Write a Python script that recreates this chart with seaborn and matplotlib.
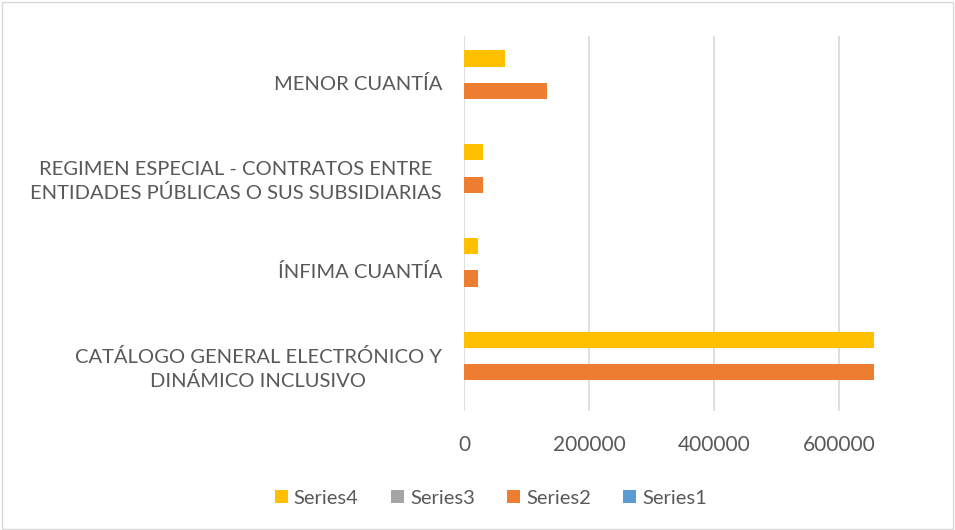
import matplotlib.pyplot as plt
import pandas as pd
import seaborn as sns

# categories top -> bottom (seaborn puts the first one at the top)
categories = [
    'MENOR CUANTÍA',
    'REGIMEN ESPECIAL - CONTRATOS ENTRE\nENTIDADES PÚBLICAS O SUS SUBSIDIARIAS',
    'ÍNFIMA CUANTÍA',
    'CATÁLOGO GENERAL ELECTRÓNICO Y\nDINÁMICO INCLUSIVO',
]
series_names = ['Series4', 'Series3', 'Series2', 'Series1']
series4 = [66000, 31000, 23000, 657000]
series3 = [0, 0, 0, 0]
series2 = [133000, 31000, 23000, 657000]
series1 = [0, 0, 0, 0]
colors = ['#ffc000', '#a5a5a5', '#ed7d31', '#5b9bd5']

# long-form table for seaborn
rows = []
for name, vals in zip(series_names, [series4, series3, series2, series1]):
    for cat, v in zip(categories, vals):
        rows.append({'cat': cat, 'series': name, 'value': v})
df = pd.DataFrame(rows)

sns.set_style('white')
plt.rcParams['font.family'] = ['Lato', 'DejaVu Sans']

fig = plt.figure(figsize=(9.55, 5.30), dpi=100)
ax = fig.add_axes([0.486, 0.2245, 0.430, 0.7075])

sns.barplot(data=df, y='cat', x='value', hue='series', order=categories,
            hue_order=series_names, palette=colors, orient='y',
            width=0.695, linewidth=0, saturation=1, ax=ax, zorder=3)

ax.set_xlim(0, 657600)
ax.set_xticks([0, 200000, 400000, 600000])
ax.set_xticklabels(['0', '200000', '400000', '600000'])
ax.grid(axis='x', color='#d9d9d9', linewidth=1.2, zorder=0)
ax.grid(axis='y', visible=False)
for s in ax.spines.values():
    s.set_visible(False)
ax.tick_params(axis='y', length=0, labelsize=14.5, colors='#595959', pad=16)
ax.tick_params(axis='x', length=0, labelsize=15, colors='#595959', pad=17)
for lbl in ax.get_yticklabels():
    lbl.set_multialignment('center')
    lbl.set_linespacing(1.45)
ax.set_xlabel('')
ax.set_ylabel('')

ax.legend(loc='center', bbox_to_anchor=(0.065, -0.232), ncol=4, frameon=False,
          fontsize=14.5, labelcolor='#595959', handlelength=0.65,
          handleheight=0.65, handletextpad=0.3, columnspacing=1.6)

fig.patches.append(plt.Rectangle((0.002, 0.002), 0.996, 0.994, transform=fig.transFigure,
                                 fill=False, edgecolor='#d9d9d9', linewidth=1))

fig.savefig('out.png', dpi=100)
